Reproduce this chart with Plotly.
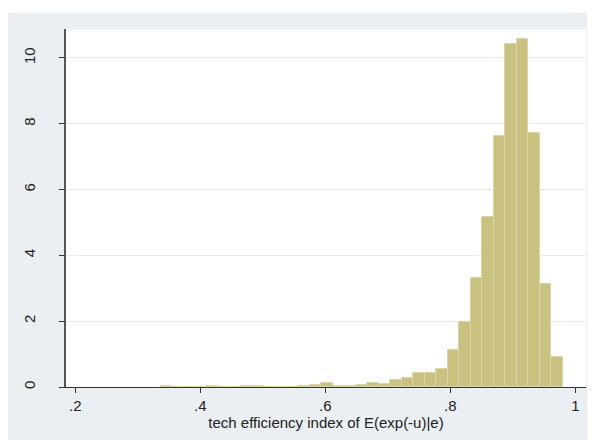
import plotly.graph_objects as go

# Histogram (density) of technical efficiency scores: 35 bins
bin_start = 0.3363
bin_width = 0.01839
densities = [
    0.03, 0.0, 0.0, 0.0, 0.03, 0.0, 0.0, 0.03, 0.03, 0.0,
    0.0, 0.0, 0.03, 0.05, 0.13, 0.03, 0.03, 0.06, 0.11, 0.08,
    0.20, 0.26, 0.43, 0.43, 0.55, 1.13, 1.99, 3.31, 5.18, 7.62,
    10.42, 10.58, 7.72, 3.12, 0.91,
]
x_ticks = [0.2, 0.4, 0.6, 0.8, 1.0]
x_tick_labels = [".2", ".4", ".6", ".8", "1"]
y_ticks = [0, 2, 4, 6, 8, 10]
y_tick_labels = ["0", "2", "4", "6", "8", "10"]
x_title = "tech efficiency index of E(exp(-u)|e)"

centers = [bin_start + bin_width * (i + 0.5) for i in range(len(densities))]

BG = "#e9eff2"
FONT = "Liberation Sans, Arial, sans-serif"

fig = go.Figure()
fig.add_trace(go.Bar(
    x=centers, y=densities, width=[bin_width] * len(densities),
    marker=dict(color="#c8c180", line=dict(color="#dcd6a6", width=1)),
    hoverinfo="x+y",
))

# page is offset by the 8px body margin
W, H = 587, 432
L, R, T, B = 58, 9, 21, 53
pw, ph = W - L - R, H - T - B

def px_x(p):
    return (p - L) / pw

def px_y(p):
    return (H - B - p) / ph

fig.update_layout(
    width=W, height=H,
    margin=dict(l=L, r=R, t=T, b=B, pad=0),
    paper_bgcolor=BG, plot_bgcolor="white",
    showlegend=False, bargap=0,
    font=dict(family=FONT, size=15, color="#222222"),
    shapes=[
        dict(type="rect", xref="paper", yref="paper",
             x0=px_x(-5), x1=px_x(W + 5), y0=px_y(5), y1=px_y(-5),
             fillcolor="white", line=dict(width=0), layer="above"),
    ],
    xaxis=dict(
        range=[0.1851, 1.0171], tickvals=x_ticks, ticktext=x_tick_labels,
        showgrid=False, zeroline=False, showline=True, linecolor="#333333",
        linewidth=1, ticks="outside", ticklen=5, tickcolor="#333333",
        title=dict(text=x_title, standoff=1, font=dict(size=15)),
        tickfont=dict(size=15),
    ),
    yaxis=dict(
        range=[0, 10.88], tickvals=y_ticks, ticktext=y_tick_labels,
        showgrid=True, gridcolor="#e6eef2", gridwidth=1, zeroline=False,
        showline=True, linecolor="#555555", linewidth=1.5,
        ticks="outside", ticklen=5, tickcolor="#333333",
        tickangle=-90, tickfont=dict(size=15), ticklabelstandoff=18,
    ),
)

fig.write_html("out.html")
